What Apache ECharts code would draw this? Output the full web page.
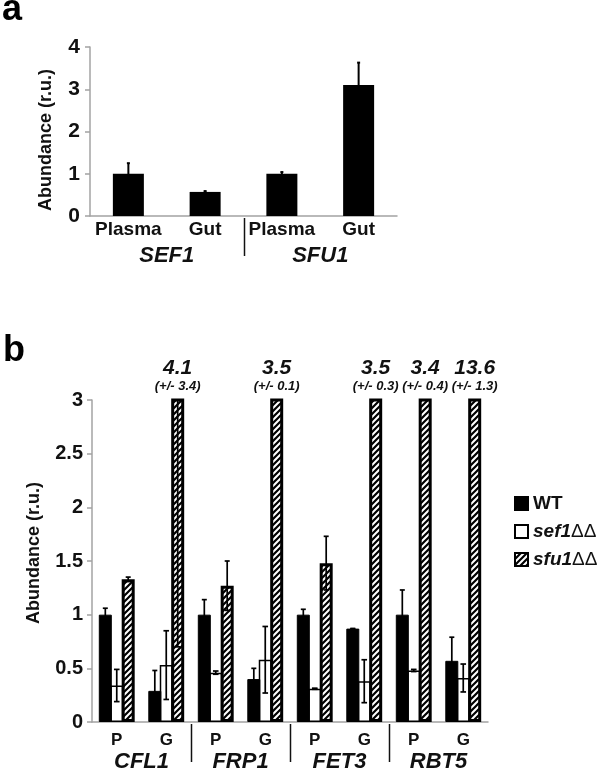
<!DOCTYPE html>
<html><head><meta charset="utf-8">
<script src="https://cdn.jsdelivr.net/npm/echarts@6/dist/echarts.min.js"></script>
<style>html,body{margin:0;padding:0;background:#fff}#c{width:601px;height:776px}</style>
</head><body><div id="c"></div>
<script>
// ---- Panel a data ----
const aSamples = ['Plasma', 'Gut', 'Plasma', 'Gut'];
const aGenes = ['SEF1', 'SFU1'];
const aValues = [1.0, 0.57, 1.0, 3.10];
const aErrors = [0.25, 0.02, 0.04, 0.53];
const aTicks = [0, 1, 2, 3, 4];

// ---- Panel b data ----
const bSamples = ['P', 'G', 'P', 'G', 'P', 'G', 'P', 'G'];
const bGenes = ['CFL1', 'FRP1', 'FET3', 'RBT5'];
const strains = ['WT', 'sef1ΔΔ', 'sfu1ΔΔ'];
const wtValues = [1.0, 0.29, 1.0, 0.40, 1.0, 0.87, 1.0, 0.57];
const wtErrors = [0.06, 0.19, 0.14, 0.10, 0.05, 0.0, 0.23, 0.22];
const sef1Values = [0.34, 0.53, 0.46, 0.58, 0.31, 0.38, 0.48, 0.41];
const sef1Errors = [0.15, 0.32, 0.015, 0.31, 0.005, 0.20, 0.01, 0.13];
const sfu1Values = [1.33, 4.1, 1.27, 3.5, 1.48, 3.5, 3.4, 13.6];
const sfu1Errors = [0.02, 3.4, 0.23, 0.1, 0.25, 0.3, 0.4, 1.3];
const bTicks = [0, 0.5, 1, 1.5, 2, 2.5, 3];

const FONT = 'Liberation Sans, Arial, Helvetica, sans-serif';
const GRAY = '#a3a3a3';
const TXT = '#111';

function hatchCanvas() {
  const s = 6;
  const c = document.createElement('canvas');
  c.width = s; c.height = s;
  const g = c.getContext('2d');
  g.fillStyle = '#fff'; g.fillRect(0, 0, s, s);
  g.strokeStyle = '#000'; g.lineWidth = 2.2; g.lineCap = 'square';
  g.beginPath();
  g.moveTo(0, s); g.lineTo(s, 0);
  g.moveTo(-s, s); g.lineTo(s, -s);
  g.moveTo(0, 2 * s); g.lineTo(2 * s, 0);
  g.stroke();
  return c;
}
const hatch = { image: hatchCanvas(), repeat: 'repeat' };

const BW = 13, GAP = -0.12;
const STEP = BW * (1 + GAP);

function errSeries(xi, yi, values, errors, offset, cap, lw, maxV) {
  return {
    type: 'custom', xAxisIndex: xi, yAxisIndex: yi, z: 6, silent: true,
    data: values.map((v, i) => [i, v - errors[i], v + errors[i]]),
    encode: { x: 0, y: [1, 2] },
    renderItem(params, api) {
      const i = api.value(0);
      let lo = api.value(1), hi = api.value(2);
      if (lo >= maxV) return null;
      const over = hi > maxV;
      if (over) hi = maxV;
      const pl = api.coord([i, lo]);
      const ph = api.coord([i, hi]);
      const x = pl[0] + offset;
      const st = { stroke: '#000', lineWidth: lw };
      const ch = [
        { type: 'line', shape: { x1: x, y1: pl[1], x2: x, y2: ph[1] }, style: st },
        { type: 'line', shape: { x1: x - cap, y1: pl[1], x2: x + cap, y2: pl[1] }, style: st }
      ];
      if (!over) ch.push({ type: 'line', shape: { x1: x - cap, y1: ph[1], x2: x + cap, y2: ph[1] }, style: st });
      return { type: 'group', children: ch };
    }
  };
}

const chart = echarts.init(document.getElementById('c'), null, { renderer: 'canvas' });

const option = {
  animation: false,
  backgroundColor: '#fff',
  textStyle: { fontFamily: FONT },
  grid: [
    { left: 90, right: 204, top: 47, bottom: 560 },
    { left: 92, right: 113, top: 400, bottom: 54 }
  ],
  xAxis: [
    { type: 'category', gridIndex: 0, data: aSamples,
      axisLine: { lineStyle: { color: GRAY, width: 1.5 } }, axisTick: { show: false },
      axisLabel: { interval: 0, color: TXT, fontWeight: 'bold', fontSize: 19, margin: 4, fontFamily: FONT } },
    { type: 'category', gridIndex: 0, data: aGenes, position: 'bottom', offset: 25,
      axisLine: { show: false }, axisTick: { show: false },
      axisLabel: { interval: 0, color: TXT, fontWeight: 'bold', fontStyle: 'italic', fontSize: 22, margin: 4, fontFamily: FONT } },
    { type: 'category', gridIndex: 1, data: bSamples,
      axisLine: { lineStyle: { color: GRAY, width: 1.5 } }, axisTick: { show: false },
      axisLabel: { interval: 0, color: TXT, fontWeight: 'bold', fontSize: 17, margin: 10, fontFamily: FONT } },
    { type: 'category', gridIndex: 1, data: bGenes, position: 'bottom', offset: 25,
      axisLine: { show: false }, axisTick: { show: false },
      axisLabel: { interval: 0, color: TXT, fontWeight: 'bold', fontStyle: 'italic', fontSize: 22, margin: 4, fontFamily: FONT } }
  ],
  yAxis: [
    { type: 'value', gridIndex: 0, min: aTicks[0], max: aTicks[aTicks.length - 1], interval: aTicks[1] - aTicks[0],
      axisLine: { show: true, lineStyle: { color: GRAY, width: 1.5 } },
      axisTick: { show: true, length: 5, lineStyle: { color: GRAY, width: 1.5 } },
      splitLine: { show: false },
      axisLabel: { color: TXT, fontWeight: 'bold', fontSize: 21, margin: 10, fontFamily: FONT } },
    { type: 'value', gridIndex: 1, min: bTicks[0], max: bTicks[bTicks.length - 1], interval: bTicks[1] - bTicks[0],
      axisLine: { show: true, lineStyle: { color: GRAY, width: 1.5 } },
      axisTick: { show: true, length: 5, lineStyle: { color: GRAY, width: 1.5 } },
      splitLine: { show: false },
      axisLabel: { color: TXT, fontWeight: 'bold', fontSize: 20, margin: 9, fontFamily: FONT } }
  ],
  legend: {
    data: strains, orient: 'vertical', left: 509, top: 489,
    itemWidth: 13, itemHeight: 13, itemGap: 9, icon: 'rect',
    selectedMode: false,
    formatter: n => {
      const m = n.match(/^(.*?)(ΔΔ)$/);
      return m ? '{i|' + m[1] + '}{d|' + m[2] + '}' : '{n|' + n + '}';
    },
    textStyle: {
      fontFamily: FONT, color: TXT,
      rich: {
        n: { fontWeight: 'bold', fontSize: 19, fontFamily: FONT, color: TXT },
        i: { fontWeight: 'bold', fontStyle: 'italic', fontSize: 19, fontFamily: FONT, color: TXT },
        d: { fontSize: 19, fontFamily: FONT, color: TXT }
      }
    }
  },
  series: [
    { type: 'bar', name: 'a', xAxisIndex: 0, yAxisIndex: 0, data: aValues, barWidth: 31,
      itemStyle: { color: '#000' } },
    errSeries(0, 0, aValues, aErrors, 0, 1.5, 2, aTicks[aTicks.length - 1]),
    { type: 'bar', name: strains[0], xAxisIndex: 2, yAxisIndex: 1, data: wtValues,
      barWidth: BW, barGap: (GAP * 100) + '%', z: 3,
      itemStyle: { color: '#000', borderColor: '#000', borderWidth: 1 } },
    { type: 'bar', name: strains[1], xAxisIndex: 2, yAxisIndex: 1, data: sef1Values,
      barWidth: BW, barGap: (GAP * 100) + '%', z: 2,
      itemStyle: { color: '#fff', borderColor: '#000', borderWidth: 1.5 } },
    { type: 'bar', name: strains[2], xAxisIndex: 2, yAxisIndex: 1, data: sfu1Values,
      barWidth: BW, barGap: (GAP * 100) + '%', z: 3,
      itemStyle: { color: hatch, borderColor: '#000', borderWidth: 3 } },
    errSeries(2, 1, wtValues, wtErrors, -STEP, 2.5, 1.7, bTicks[bTicks.length - 1]),
    errSeries(2, 1, sef1Values, sef1Errors, 0, 2.8, 1.7, bTicks[bTicks.length - 1]),
    errSeries(2, 1, sfu1Values, sfu1Errors, STEP, 2.5, 1.7, bTicks[bTicks.length - 1]),
    { type: 'scatter', xAxisIndex: 2, yAxisIndex: 1, symbolSize: 0, clip: false, silent: true, z: 10,
      itemStyle: { opacity: 1 },
      data: sfu1Values.map((v, i) => v > bTicks[bTicks.length - 1] ? [i, bTicks[bTicks.length - 1], v, sfu1Errors[i]] : null).filter(d => d),
      label: {
        show: true, position: 'top', distance: 6, offset: [STEP, 0], color: '#111', opacity: 1,
        formatter: p => '{v|' + p.value[2] + '}\n{e|(+/- ' + p.value[3] + ')}',
        rich: {
          v: { fontSize: 21, fontWeight: 'bold', fontStyle: 'italic', fontFamily: FONT, color: '#111', lineHeight: 19, align: 'center' },
          e: { fontSize: 13, fontWeight: 'bold', fontStyle: 'italic', fontFamily: FONT, color: '#111', lineHeight: 16, align: 'center' }
        }
      } }
  ]
};
chart.setOption(option);

// separators between gene groups and text decorations
function seps(xi, yi, nSamples, nGenes) {
  const per = nSamples / nGenes;
  const y0 = chart.convertToPixel({ yAxisIndex: yi }, 0);
  const out = [];
  for (let g = 1; g < nGenes; g++) {
    const a = chart.convertToPixel({ xAxisIndex: xi }, g * per - 1);
    const b = chart.convertToPixel({ xAxisIndex: xi }, g * per);
    const x = Math.round((a + b) / 2) + 0.5;
    out.push({ type: 'line', shape: { x1: x, y1: y0 + 2, x2: x, y2: y0 + 40 }, style: { stroke: '#111', lineWidth: 1.5 } });
  }
  return out;
}
const graphics = [].concat(
  seps(0, 0, aSamples.length, aGenes.length),
  seps(2, 1, bSamples.length, bGenes.length),
  [
    { type: 'text', left: 2, top: -8, style: { text: 'a', font: 'bold 36px ' + FONT, fill: '#000' } },
    { type: 'text', left: 3, top: 333, style: { text: 'b', font: 'bold 36px ' + FONT, fill: '#000' } },
    { type: 'text', x: 46, y: 140, rotation: Math.PI / 2,
      style: { text: 'Abundance (r.u.)', font: 'bold 18px ' + FONT, fill: TXT, align: 'center', verticalAlign: 'middle' } },
    { type: 'text', x: 34, y: 553, rotation: Math.PI / 2,
      style: { text: 'Abundance (r.u.)', font: 'bold 18px ' + FONT, fill: TXT, align: 'center', verticalAlign: 'middle' } }
  ]
);
chart.setOption({ graphic: graphics });
</script>
</body></html>
